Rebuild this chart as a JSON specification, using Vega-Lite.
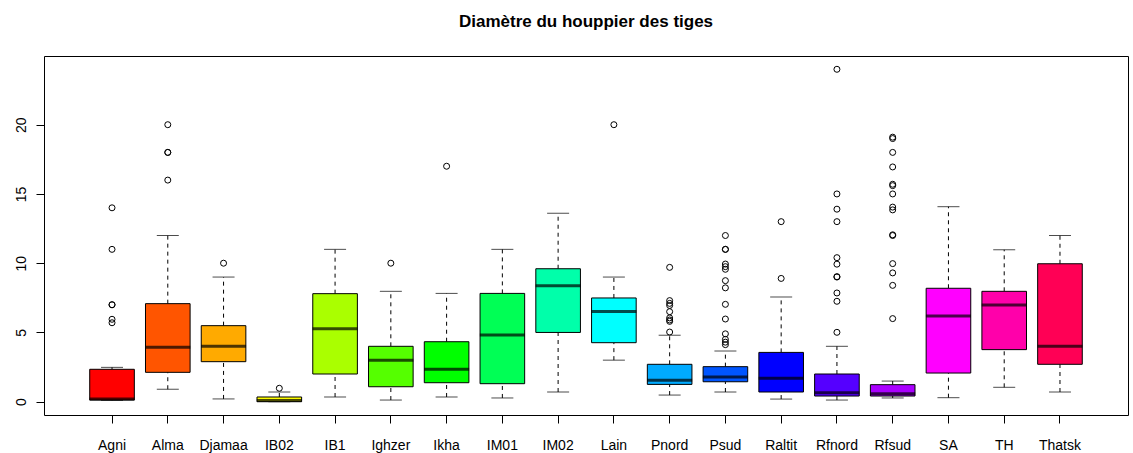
{
  "$schema": "https://vega.github.io/schema/vega-lite/v6.json",
  "autosize": {"type": "none"},
  "padding": {"left": 44, "top": 56, "right": 5, "bottom": 38},
  "width": 1084,
  "height": 359,
  "background": "white",
  "config": {
    "view": {"stroke": "black", "strokeWidth": 1},
    "font": "Liberation Sans"
  },
  "title": {
    "text": "Diamètre du houppier des tiges",
    "font": "Liberation Sans",
    "fontSize": 17,
    "fontWeight": "bold",
    "color": "black",
    "anchor": "middle",
    "baseline": "alphabetic",
    "offset": 12
  },
  "datasets": {
    "boxes": [
      {"group": "Agni", "lo": 0.1, "q1": 0.12, "med": 0.2, "q3": 2.34, "hi": 2.48},
      {"group": "Alma", "lo": 0.9, "q1": 2.12, "med": 3.93, "q3": 7.08, "hi": 12.0},
      {"group": "Djamaa", "lo": 0.2, "q1": 2.89, "med": 4.0, "q3": 5.49, "hi": 9.0},
      {"group": "IB02", "lo": 0.0, "q1": 0.0, "med": 0.08, "q3": 0.34, "hi": 0.7},
      {"group": "IB1", "lo": 0.34, "q1": 2.0, "med": 5.27, "q3": 7.8, "hi": 11.0},
      {"group": "Ighzer", "lo": 0.12, "q1": 1.08, "med": 3.0, "q3": 4.0, "hi": 7.97},
      {"group": "Ikha", "lo": 0.34, "q1": 1.37, "med": 2.34, "q3": 4.33, "hi": 7.82},
      {"group": "IM01", "lo": 0.27, "q1": 1.3, "med": 4.82, "q3": 7.82, "hi": 11.0},
      {"group": "IM02", "lo": 0.7, "q1": 5.0, "med": 8.38, "q3": 9.6, "hi": 13.6},
      {"group": "Lain", "lo": 3.0, "q1": 4.26, "med": 6.52, "q3": 7.49, "hi": 9.0},
      {"group": "Pnord", "lo": 0.48, "q1": 1.25, "med": 1.54, "q3": 2.7, "hi": 4.8},
      {"group": "Psud", "lo": 0.7, "q1": 1.44, "med": 1.78, "q3": 2.53, "hi": 3.66},
      {"group": "Raltit", "lo": 0.19, "q1": 0.7, "med": 1.69, "q3": 3.56, "hi": 7.56},
      {"group": "Rfnord", "lo": 0.12, "q1": 0.41, "med": 0.65, "q3": 2.0, "hi": 4.0},
      {"group": "Rfsud", "lo": 0.27, "q1": 0.41, "med": 0.58, "q3": 1.23, "hi": 1.49},
      {"group": "SA", "lo": 0.29, "q1": 2.07, "med": 6.19, "q3": 8.19, "hi": 14.08},
      {"group": "TH", "lo": 1.04, "q1": 3.76, "med": 6.98, "q3": 7.97, "hi": 10.97},
      {"group": "Thatsk", "lo": 0.7, "q1": 2.7, "med": 4.0, "q3": 9.96, "hi": 12.0}
    ],
    "outliers": [
      {"group": "Agni", "value": 14.0}, {"group": "Agni", "value": 11.0}, {"group": "Agni", "value": 7.0}, {"group": "Agni", "value": 7.0}, {"group": "Agni", "value": 5.95}, {"group": "Agni", "value": 5.7},
      {"group": "Alma", "value": 20.0}, {"group": "Alma", "value": 18.0}, {"group": "Alma", "value": 18.0}, {"group": "Alma", "value": 16.0},
      {"group": "Djamaa", "value": 10.0},
      {"group": "IB02", "value": 0.97},
      {"group": "Ighzer", "value": 10.0},
      {"group": "Ikha", "value": 17.0},
      {"group": "Lain", "value": 20.0},
      {"group": "Pnord", "value": 9.7}, {"group": "Pnord", "value": 7.3}, {"group": "Pnord", "value": 7.1}, {"group": "Pnord", "value": 6.95}, {"group": "Pnord", "value": 6.5}, {"group": "Pnord", "value": 6.05}, {"group": "Pnord", "value": 5.9}, {"group": "Pnord", "value": 5.8}, {"group": "Pnord", "value": 5.03},
      {"group": "Psud", "value": 12.0}, {"group": "Psud", "value": 11.0}, {"group": "Psud", "value": 11.0}, {"group": "Psud", "value": 9.94}, {"group": "Psud", "value": 9.75}, {"group": "Psud", "value": 9.56}, {"group": "Psud", "value": 8.74}, {"group": "Psud", "value": 8.22}, {"group": "Psud", "value": 7.03}, {"group": "Psud", "value": 5.97}, {"group": "Psud", "value": 4.9}, {"group": "Psud", "value": 4.5}, {"group": "Psud", "value": 4.3}, {"group": "Psud", "value": 4.12},
      {"group": "Raltit", "value": 13.0}, {"group": "Raltit", "value": 8.9},
      {"group": "Rfnord", "value": 24.0}, {"group": "Rfnord", "value": 15.0}, {"group": "Rfnord", "value": 13.9}, {"group": "Rfnord", "value": 13.0}, {"group": "Rfnord", "value": 10.4}, {"group": "Rfnord", "value": 9.93}, {"group": "Rfnord", "value": 9.03}, {"group": "Rfnord", "value": 9.0}, {"group": "Rfnord", "value": 7.85}, {"group": "Rfnord", "value": 7.25}, {"group": "Rfnord", "value": 5.01},
      {"group": "Rfsud", "value": 19.1}, {"group": "Rfsud", "value": 19.0}, {"group": "Rfsud", "value": 18.0}, {"group": "Rfsud", "value": 16.95}, {"group": "Rfsud", "value": 15.7}, {"group": "Rfsud", "value": 15.6}, {"group": "Rfsud", "value": 15.0}, {"group": "Rfsud", "value": 14.05}, {"group": "Rfsud", "value": 13.85}, {"group": "Rfsud", "value": 12.05}, {"group": "Rfsud", "value": 12.0}, {"group": "Rfsud", "value": 9.97}, {"group": "Rfsud", "value": 9.3}, {"group": "Rfsud", "value": 8.4}, {"group": "Rfsud", "value": 6.0}
    ]
  },
  "encoding": {
    "x": {
      "field": "group",
      "type": "nominal",
      "sort": null,
      "scale": {
        "domain": ["Agni", "Alma", "Djamaa", "IB02", "IB1", "Ighzer", "Ikha", "IM01", "IM02", "Lain", "Pnord", "Psud", "Raltit", "Rfnord", "Rfsud", "SA", "TH", "Thatsk"],
        "paddingInner": 0.2,
        "paddingOuter": 0.82
      },
      "axis": {
        "title": null,
        "labelAngle": 0,
        "labelFontSize": 14,
        "labelColor": "black",
        "labelFont": "Liberation Sans",
        "labelBaseline": "top",
        "labelPadding": 15,
        "tickSize": 8,
        "tickColor": "black",
        "domain": false,
        "grid": false
      }
    }
  },
  "layer": [
    {
      "data": {"name": "boxes"},
      "mark": {"type": "rule", "color": "black", "strokeWidth": 1, "strokeDash": [4, 4]},
      "encoding": {
        "y": {
          "field": "q3",
          "type": "quantitative",
          "scale": {"domain": [-0.96, 24.96], "nice": false, "zero": false},
          "axis": {
            "title": null,
            "values": [0, 5, 10, 15, 20],
            "labelAngle": -90,
            "labelAlign": "center",
            "labelBaseline": "bottom",
            "labelFontSize": 14,
            "labelColor": "black",
            "labelFont": "Liberation Sans",
            "labelPadding": 8,
            "tickSize": 8,
            "tickColor": "black",
            "domain": false,
            "grid": false
          }
        },
        "y2": {"field": "hi"}
      }
    },
    {
      "data": {"name": "boxes"},
      "mark": {"type": "rule", "color": "black", "strokeWidth": 1, "strokeDash": [4, 4]},
      "encoding": {
        "y": {"field": "lo", "type": "quantitative"},
        "y2": {"field": "q1"}
      }
    },
    {
      "data": {"name": "boxes"},
      "mark": {"type": "tick", "color": "black", "orient": "horizontal", "size": 22, "thickness": 1},
      "encoding": {"y": {"field": "hi", "type": "quantitative"}}
    },
    {
      "data": {"name": "boxes"},
      "mark": {"type": "tick", "color": "black", "orient": "horizontal", "size": 22, "thickness": 1},
      "encoding": {"y": {"field": "lo", "type": "quantitative"}}
    },
    {
      "data": {"name": "boxes"},
      "mark": {"type": "bar", "stroke": "black", "strokeWidth": 1, "opacity": 1},
      "encoding": {
        "y": {"field": "q1", "type": "quantitative"},
        "y2": {"field": "q3"},
        "color": {
          "field": "group",
          "type": "nominal",
          "legend": null,
          "scale": {
            "domain": ["Agni", "Alma", "Djamaa", "IB02", "IB1", "Ighzer", "Ikha", "IM01", "IM02", "Lain", "Pnord", "Psud", "Raltit", "Rfnord", "Rfsud", "SA", "TH", "Thatsk"],
            "range": ["#FF0000", "#FF5500", "#FFAA00", "#FFFF00", "#AAFF00", "#55FF00", "#00FF00", "#00FF55", "#00FFAA", "#00FFFF", "#00AAFF", "#0055FF", "#0000FF", "#5500FF", "#AA00FF", "#FF00FF", "#FF00AA", "#FF0055"]
          }
        }
      }
    },
    {
      "data": {"name": "boxes"},
      "mark": {"type": "tick", "color": "black", "orient": "horizontal", "size": 45, "thickness": 3},
      "encoding": {"y": {"field": "med", "type": "quantitative"}}
    },
    {
      "data": {"name": "outliers"},
      "mark": {"type": "point", "shape": "circle", "filled": false, "stroke": "black", "strokeWidth": 1, "size": 36, "opacity": 1},
      "encoding": {"y": {"field": "value", "type": "quantitative"}}
    }
  ]
}
